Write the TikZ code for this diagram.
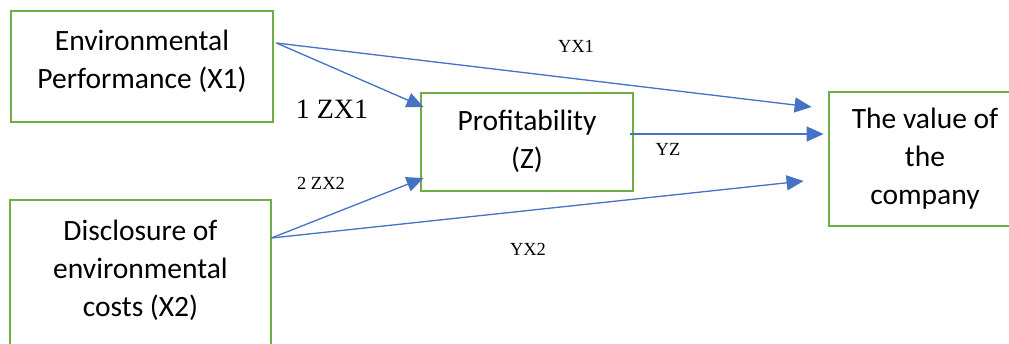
\documentclass[tikz,border=0pt]{standalone}
\usepackage{fontspec}
\setmainfont{Liberation Serif}
\newfontfamily\boxfont{Carlito}
\usetikzlibrary{arrows.meta,calc}
\definecolor{boxgreen}{HTML}{70AD47}
\definecolor{arrowblue}{HTML}{4472C4}
\tikzset{
  box/.style={draw=boxgreen, line width=2.8pt, inner sep=0pt},
  boxtext/.style={align=center, inner sep=0pt, font=\boxfont\fontsize{29.5}{38}\selectfont},
  lbl/.style={inner sep=0pt, font=\fontsize{18.5}{21}\selectfont},
  arr/.style={draw=arrowblue, line width=1.3pt, -{Triangle[length=17pt,width=15pt]}, fill=arrowblue},
}
\begin{document}
\begin{tikzpicture}[x=1pt,y=-1pt]
\useasboundingbox (0,0) rectangle (1009,343);
% boxes
\node[box, minimum width=262, minimum height=111] (x1) at (142,66.5) {};
\node[box, minimum width=261, minimum height=152] (x2) at (140.5,276) {};
\node[box, minimum width=212, minimum height=98] (z) at (527,142) {};
\node[box, minimum width=186, minimum height=134] (v) at (922,159) {};
% texts
\node[boxtext] (x1t) at (142,61) {Environmental\\Performance (X1)};
\node[boxtext] (x2t) at (140.5,270) {Disclosure of\\environmental\\costs (X2)};
\node[boxtext] (zt) at (527,141.5) {Profitability\\(Z)};
\node[boxtext] (vt) at (925,159) {The value of\\the\\company};
% connector end points
\coordinate (x1o) at ($(x1.east)+(2,-23.5)$);
\coordinate (x2o) at ($(x2.east)+(-1,-38)$);
\coordinate (zo) at ($(z.east)+(-4,-8)$);
\coordinate (zi1) at ($(z.west)+(4,-35)$);
\coordinate (zi2) at ($(z.west)+(4,36)$);
\coordinate (v1) at ($(v.west)+(-16,-52)$);
\coordinate (v2) at ($(v.west)+(-4,-25)$);
\coordinate (v3) at ($(v.west)+(-24,22)$);
% connectors
\draw[arr] (x1o) -- (v1);
\draw[arr] (x1o) -- (zi1);
\draw[arr] (x2o) -- (zi2);
\draw[arr] (x2o) -- (v3);
\draw[arr] (zo) -- (v2);
% labels
\node[lbl] (lyx1) at (576,46) {YX1};
\node[lbl, font=\fontsize{28}{30}\selectfont] (lzx1) at (332,109) {1 ZX1};
\node[lbl] (lzx2) at (321,183) {2 ZX2};
\node[lbl] (lyz) at (668,149) {YZ};
\node[lbl] (lyx2) at (528,249) {YX2};
\end{tikzpicture}
\end{document}
